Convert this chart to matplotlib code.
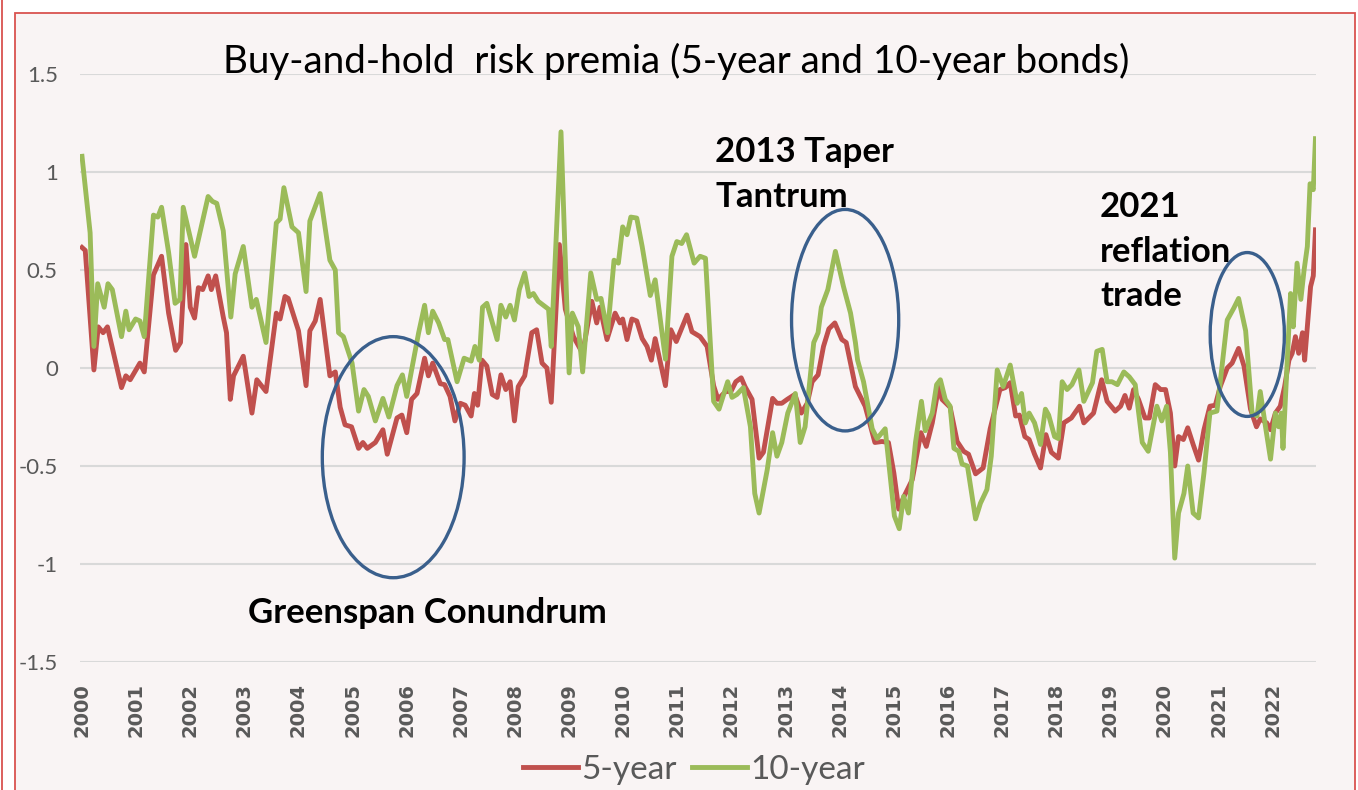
import matplotlib
matplotlib.use("Agg")
import matplotlib.pyplot as plt
from matplotlib.patches import Ellipse, Rectangle
from matplotlib.lines import Line2D

plt.rcParams['font.family'] = ['Lato', 'DejaVu Sans']

# values (decimal years)
years_5y = [2000.00, 2000.06, 2000.22, 2000.30, 2000.39, 2000.47, 2000.73, 2000.81, 2000.89, 2001.07,
            2001.15, 2001.32, 2001.47, 2001.60, 2001.73, 2001.82, 2001.92, 2002.00, 2002.08, 2002.15,
            2002.23, 2002.33, 2002.39, 2002.47, 2002.61, 2002.67, 2002.74, 2002.80, 2002.98, 2003.14,
            2003.23, 2003.40, 2003.59, 2003.66, 2003.75, 2003.81, 2004.00, 2004.14, 2004.21, 2004.31,
            2004.40, 2004.58, 2004.68, 2004.77, 2004.86, 2004.98, 2005.11, 2005.19, 2005.27, 2005.42,
            2005.56, 2005.64, 2005.82, 2005.91, 2006.00, 2006.09, 2006.19, 2006.33, 2006.40, 2006.48,
            2006.62, 2006.70, 2006.80, 2006.89, 2006.99, 2007.08, 2007.19, 2007.25, 2007.31, 2007.39,
            2007.48, 2007.58, 2007.67, 2007.74, 2007.83, 2007.91, 2007.99, 2008.06, 2008.18, 2008.31,
            2008.40, 2008.50, 2008.59, 2008.67, 2008.82, 2008.93, 2009.08, 2009.25, 2009.42, 2009.51,
            2009.57, 2009.70, 2009.85, 2009.94, 2009.99, 2010.07, 2010.16, 2010.25, 2010.35, 2010.44,
            2010.52, 2010.59, 2010.78, 2010.88, 2010.98, 2011.18, 2011.27, 2011.42, 2011.55, 2011.67,
            2011.75, 2011.89, 2011.99, 2012.08, 2012.18, 2012.25, 2012.38, 2012.51, 2012.59, 2012.76,
            2012.84, 2012.93, 2013.03, 2013.17, 2013.29, 2013.40, 2013.49, 2013.60, 2013.70, 2013.80,
            2013.91, 2014.04, 2014.12, 2014.21, 2014.29, 2014.47, 2014.65, 2014.78, 2014.90, 2015.00,
            2015.09, 2015.18, 2015.34, 2015.50, 2015.60, 2015.71, 2015.83, 2015.89, 2016.04, 2016.17,
            2016.29, 2016.38, 2016.51, 2016.65, 2016.78, 2016.96, 2017.06, 2017.15, 2017.25, 2017.32,
            2017.42, 2017.50, 2017.60, 2017.71, 2017.81, 2017.91, 2018.04, 2018.14, 2018.28, 2018.43,
            2018.51, 2018.69, 2018.84, 2018.94, 2019.09, 2019.19, 2019.27, 2019.35, 2019.43, 2019.52,
            2019.64, 2019.72, 2019.83, 2019.93, 2020.02, 2020.11, 2020.19, 2020.26, 2020.35, 2020.43,
            2020.53, 2020.63, 2020.73, 2020.84, 2020.94, 2021.03, 2021.16, 2021.25, 2021.37, 2021.47,
            2021.59, 2021.70, 2021.77, 2021.89, 2021.96, 2022.05, 2022.14, 2022.22, 2022.30, 2022.36,
            2022.42, 2022.48, 2022.55, 2022.59, 2022.65, 2022.70, 2022.75, 2022.79]
prem_5y = [0.615, 0.60, -0.01, 0.21, 0.18, 0.21, -0.10, -0.04, -0.06, 0.025,
           -0.02, 0.475, 0.57, 0.28, 0.09, 0.13, 0.63, 0.31, 0.255, 0.41,
           0.40, 0.47, 0.40, 0.47, 0.26, 0.18, -0.16, -0.04, 0.06, -0.23,
           -0.06, -0.12, 0.28, 0.25, 0.365, 0.355, 0.19, -0.09, 0.19, 0.24,
           0.35, -0.04, -0.02, -0.20, -0.29, -0.30, -0.41, -0.38, -0.41, -0.38,
           -0.315, -0.44, -0.255, -0.24, -0.33, -0.16, -0.13, 0.05, -0.04, 0.025,
           -0.08, -0.085, -0.145, -0.27, -0.18, -0.19, -0.245, -0.13, -0.19, 0.04,
           0.01, -0.135, -0.15, -0.035, -0.11, -0.07, -0.27, -0.095, -0.04, 0.18,
           0.195, 0.025, 0.0, -0.175, 0.63, 0.30, 0.16, 0.075, 0.34, 0.23,
           0.31, 0.145, 0.28, 0.23, 0.25, 0.145, 0.25, 0.24, 0.15, 0.11,
           0.04, 0.15, -0.09, 0.195, 0.135, 0.27, 0.185, 0.16, 0.11, -0.09,
           -0.16, -0.12, -0.12, -0.07, -0.05, -0.095, -0.16, -0.46, -0.43, -0.155,
           -0.18, -0.18, -0.16, -0.135, -0.23, -0.18, -0.07, -0.035, 0.11, 0.20,
           0.23, 0.145, 0.13, 0.01, -0.095, -0.195, -0.38, -0.375, -0.38, -0.535,
           -0.72, -0.66, -0.57, -0.33, -0.40, -0.28, -0.095, -0.16, -0.20, -0.375,
           -0.425, -0.44, -0.54, -0.51, -0.31, -0.11, -0.10, -0.075, -0.245, -0.24,
           -0.35, -0.365, -0.44, -0.51, -0.34, -0.43, -0.46, -0.28, -0.255, -0.195,
           -0.28, -0.23, -0.06, -0.17, -0.22, -0.195, -0.14, -0.205, -0.11, -0.16,
           -0.255, -0.255, -0.085, -0.11, -0.11, -0.23, -0.50, -0.35, -0.365, -0.305,
           -0.39, -0.47, -0.315, -0.195, -0.19, -0.095, 0.0, 0.025, 0.10, 0.01,
           -0.21, -0.30, -0.26, -0.28, -0.315, -0.23, -0.195, -0.095, 0.04, 0.075,
           0.16, 0.075, 0.18, 0.04, 0.245, 0.415, 0.47, 0.705]

years_10y = [2000.00, 2000.15, 2000.22, 2000.29, 2000.41, 2000.48, 2000.56, 2000.73, 2000.81, 2000.87,
             2000.99, 2001.07, 2001.15, 2001.32, 2001.40, 2001.47, 2001.60, 2001.72, 2001.81, 2001.87,
             2002.08, 2002.33, 2002.41, 2002.49, 2002.61, 2002.75, 2002.83, 2002.98, 2003.14, 2003.22,
             2003.40, 2003.59, 2003.66, 2003.73, 2003.88, 2004.00, 2004.14, 2004.21, 2004.40, 2004.58,
             2004.68, 2004.74, 2004.83, 2004.99, 2005.11, 2005.21, 2005.29, 2005.42, 2005.56, 2005.67,
             2005.82, 2005.92, 2006.00, 2006.09, 2006.22, 2006.33, 2006.40, 2006.48, 2006.59, 2006.70,
             2006.76, 2006.93, 2007.06, 2007.19, 2007.26, 2007.34, 2007.40, 2007.48, 2007.67, 2007.74,
             2007.83, 2007.91, 2007.99, 2008.08, 2008.18, 2008.26, 2008.34, 2008.43, 2008.62, 2008.67,
             2008.85, 2009.00, 2009.06, 2009.17, 2009.25, 2009.40, 2009.51, 2009.59, 2009.71, 2009.83,
             2009.91, 2009.99, 2010.07, 2010.14, 2010.25, 2010.35, 2010.50, 2010.59, 2010.78, 2010.90,
             2010.99, 2011.08, 2011.17, 2011.31, 2011.42, 2011.52, 2011.67, 2011.77, 2011.93, 2012.01,
             2012.10, 2012.22, 2012.35, 2012.43, 2012.51, 2012.66, 2012.76, 2012.84, 2012.93, 2013.04,
             2013.18, 2013.27, 2013.36, 2013.52, 2013.60, 2013.66, 2013.78, 2013.92, 2014.07, 2014.20,
             2014.29, 2014.33, 2014.44, 2014.60, 2014.69, 2014.84, 2015.01, 2015.10, 2015.18, 2015.27,
             2015.40, 2015.51, 2015.58, 2015.71, 2015.79, 2015.86, 2015.95, 2016.04, 2016.11, 2016.20,
             2016.26, 2016.36, 2016.51, 2016.60, 2016.72, 2016.80, 2016.91, 2017.02, 2017.15, 2017.28,
             2017.36, 2017.43, 2017.50, 2017.60, 2017.71, 2017.80, 2017.86, 2017.97, 2018.04, 2018.11,
             2018.20, 2018.29, 2018.42, 2018.51, 2018.67, 2018.75, 2018.85, 2018.94, 2019.03, 2019.13,
             2019.25, 2019.35, 2019.46, 2019.59, 2019.70, 2019.86, 2019.95, 2020.04, 2020.11, 2020.19,
             2020.26, 2020.36, 2020.43, 2020.53, 2020.63, 2020.73, 2020.84, 2020.97, 2021.07, 2021.16,
             2021.28, 2021.37, 2021.50, 2021.62, 2021.71, 2021.77, 2021.87, 2021.96, 2022.05, 2022.11,
             2022.16, 2022.19, 2022.25, 2022.33, 2022.38, 2022.45, 2022.52, 2022.58, 2022.64, 2022.69,
             2022.75, 2022.79]
prem_10y = [1.08, 0.69, 0.11, 0.43, 0.31, 0.43, 0.40, 0.16, 0.29, 0.195,
            0.25, 0.24, 0.16, 0.78, 0.77, 0.82, 0.59, 0.33, 0.35, 0.82,
            0.57, 0.875, 0.85, 0.84, 0.70, 0.26, 0.48, 0.62, 0.31, 0.35,
            0.13, 0.74, 0.76, 0.92, 0.72, 0.69, 0.39, 0.75, 0.89, 0.55,
            0.50, 0.18, 0.16, 0.025, -0.22, -0.11, -0.145, -0.27, -0.155, -0.25,
            -0.09, -0.035, -0.145, -0.01, 0.18, 0.32, 0.18, 0.29, 0.23, 0.145,
            0.145, -0.07, 0.05, 0.035, 0.11, 0.04, 0.31, 0.33, 0.145, 0.32,
            0.26, 0.32, 0.245, 0.40, 0.485, 0.365, 0.38, 0.34, 0.30, 0.11,
            1.205, -0.025, 0.28, 0.21, -0.02, 0.485, 0.35, 0.355, 0.18, 0.55,
            0.535, 0.72, 0.68, 0.77, 0.765, 0.62, 0.37, 0.45, 0.045, 0.57,
            0.645, 0.635, 0.68, 0.535, 0.57, 0.56, -0.17, -0.21, -0.07, -0.15,
            -0.135, -0.10, -0.30, -0.64, -0.74, -0.52, -0.33, -0.45, -0.38, -0.23,
            -0.13, -0.38, -0.30, 0.13, 0.18, 0.31, 0.40, 0.595, 0.415, 0.28,
            0.13, 0.04, -0.07, -0.31, -0.36, -0.31, -0.755, -0.82, -0.655, -0.74,
            -0.38, -0.17, -0.32, -0.23, -0.085, -0.06, -0.16, -0.195, -0.41, -0.425,
            -0.49, -0.50, -0.77, -0.69, -0.62, -0.45, -0.01, -0.095, 0.015, -0.18,
            -0.13, -0.28, -0.23, -0.28, -0.39, -0.21, -0.24, -0.35, -0.36, -0.07,
            -0.11, -0.085, -0.01, -0.17, -0.075, 0.085, 0.095, -0.07, -0.07, -0.085,
            -0.02, -0.045, -0.085, -0.38, -0.425, -0.195, -0.27, -0.195, -0.43, -0.97,
            -0.74, -0.64, -0.50, -0.74, -0.765, -0.535, -0.23, -0.22, 0.025, 0.245,
            0.305, 0.355, 0.19, -0.23, -0.245, -0.12, -0.305, -0.465, -0.23, -0.30,
            -0.23, -0.41, -0.075, 0.38, 0.21, 0.535, 0.35, 0.50, 0.62, 0.94,
            0.91, 1.17]

tick_years = list(range(2000, 2023))
y_ticks = [-1.5, -1, -0.5, 0, 0.5, 1, 1.5]
y_labels = ['-1.5', '-1', '-0.5', '0', '0.5', '1', '1.5']

W, H = 1358, 790
fig = plt.figure(figsize=(W / 100, H / 100), dpi=100)
fig.patch.set_facecolor('white')

# red frame of the screenshot, kept behind the axes
fig.add_artist(Rectangle((15 / W, -0.02), (1355 - 15) / W, 1 - 13 / H + 0.02,
                         transform=fig.transFigure, facecolor='#f9f4f4',
                         edgecolor='#d9534f', lw=1.3, zorder=-10))
fig.add_artist(Line2D([2 / W, 2 / W], [0, 1], transform=fig.transFigure,
                      color='#d9534f', lw=1.3, zorder=-10))

ax = fig.add_axes([80 / W, 1 - 662 / H, (1316 - 80) / W, (662 - 74) / H])
ax.set_facecolor('none')

ax.plot(years_5y, prem_5y, color='#c0504d', lw=3.5, label='5-year', solid_joinstyle='round')
ax.plot(years_10y, prem_10y, color='#9bbb59', lw=3.5, label='10-year', solid_joinstyle='round')

ax.set_xlim(1999.963, 2022.80)
ax.set_ylim(-1.5, 1.5)
ax.set_yticks(y_ticks)
ax.set_yticklabels(y_labels)
ax.set_xticks(tick_years)
ax.set_xticklabels([str(y) for y in tick_years], rotation=90, fontweight='bold',
                   family='DejaVu Sans')
ax.tick_params(axis='y', length=0, pad=16, labelsize=16, labelcolor='#595959')
ax.tick_params(axis='x', length=0, pad=15, labelsize=14, labelcolor='#595959')
ax.grid(axis='y', color='#d9d9d9', lw=1.5)
ax.set_axisbelow(True)
for s in ax.spines.values():
    s.set_visible(False)

# highlighted episodes
for cx, cy, ew, eh in [(2005.75, -0.455, 2.62, 1.23),
                       (2014.10, 0.244, 1.98, 1.13),
                       (2021.53, 0.171, 1.37, 0.836)]:
    ax.add_patch(Ellipse((cx, cy), ew, eh, fill=False, edgecolor='#3a5f8c', lw=2.4, zorder=5))

fig.text(676 / W, 1 - 73 / H, 'Buy-and-hold  risk premia (5-year and 10-year bonds)',
         ha='center', va='baseline', fontsize=27.8, color='black')

for txt, x, yb in [('2013 Taper', 715, 162), ('Tantrum', 715, 207),
                   ('2021', 1100, 217), ('reflation', 1100, 262), ('trade', 1100, 306),
                   ('Greenspan Conundrum', 248, 623)]:
    fig.text(x / W, 1 - yb / H, txt, ha='left', va='baseline', fontsize=25,
             fontweight='bold', color='black')

fig.legend(loc='center', bbox_to_anchor=(694 / W, 1 - 770 / H), ncol=2, frameon=False,
           fontsize=24, handlelength=1.65, handletextpad=0.1, columnspacing=0.45,
           labelcolor='#595959')

plt.savefig('out.png', dpi=100)
